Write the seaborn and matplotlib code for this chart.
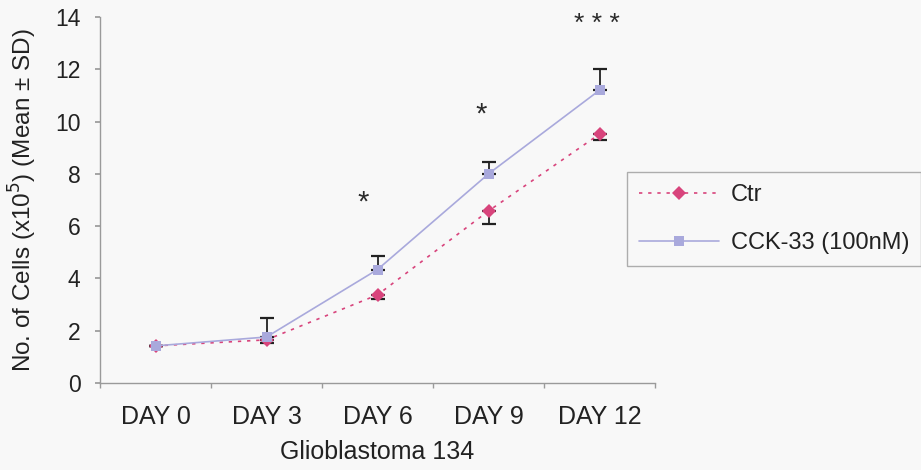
import matplotlib
matplotlib.use("Agg")
import matplotlib.pyplot as plt
import seaborn as sns
import pandas as pd
import numpy as np

sns.set_theme(style="white")
plt.rcParams["font.family"] = ["Liberation Sans", "DejaVu Sans"]

# Cell counts (x10^5), mean and SD for each time point
days = ["DAY 0", "DAY 3", "DAY 6", "DAY 9", "DAY 12"]
ctr_mean = [1.42, 1.65, 3.37, 6.58, 9.52]
ctr_sd = [0.0, 0.12, 0.17, 0.48, 0.22]
cck_mean = [1.42, 1.76, 4.34, 8.00, 11.20]
cck_sd = [0.0, 0.73, 0.52, 0.45, 0.80]
series_names = ["Ctr", "CCK-33 (100nM)"]
signif = ["", "", "*", "*", "* * *"]
signif_y = [0, 0, 6.9, 10.25, 13.75]
signif_dx = [0, 0, -0.13, -0.07, -0.02]
signif_size = [0, 0, 21, 21, 19]

ctr_color = "#D8447C"
cck_color = "#A9A9DC"
text_color = "#222222"
axis_color = "#9A9A9A"
bg = "#F8F8F8"

df = pd.DataFrame({
    "day": days * 2,
    "cells": ctr_mean + cck_mean,
    "group": [series_names[0]] * len(days) + [series_names[1]] * len(days),
})

fig = plt.figure(figsize=(9.21, 4.70), dpi=100, facecolor=bg)
ax = fig.add_axes([100 / 921, 1 - 383 / 470, 555 / 921, 366 / 470])
ax.set_facecolor(bg)

sns.lineplot(
    data=df, x="day", y="cells", hue="group", style="group",
    palette={series_names[0]: ctr_color, series_names[1]: cck_color},
    markers={series_names[0]: "D", series_names[1]: "s"},
    dashes={series_names[0]: (2, 3.5), series_names[1]: ""},
    markersize=7, linewidth=1.2, markeredgewidth=0, sort=False, ax=ax,
)

x = np.arange(len(days))
zeros = np.zeros(len(days))
# Ctr: lower SD only; CCK-33: upper SD only
ax.errorbar(x, ctr_mean, yerr=[ctr_sd, zeros], fmt="none",
            ecolor=text_color, elinewidth=1.3, capsize=5, capthick=1.6, zorder=1)
ax.errorbar(x, cck_mean, yerr=[zeros, cck_sd], fmt="none",
            ecolor=text_color, elinewidth=1.3, capsize=5, capthick=1.6, zorder=1)

for xi, s, sy, dx, fs in zip(x, signif, signif_y, signif_dx, signif_size):
    if s:
        ax.text(xi + dx, sy, s, ha="center", va="center",
                fontsize=fs, color="#2A2A2A")

ax.set_xlim(-0.5, len(days) - 0.5)
ax.set_ylim(0, 14)
ax.set_yticks(range(0, 15, 2))
ax.set_xticks(x)
ax.set_xticks(np.arange(-0.5, len(days), 1.0), minor=True)
ax.tick_params(axis="x", which="major", length=0, pad=16, labelsize=18, labelcolor=text_color)
ax.tick_params(axis="x", which="minor", length=3.6, color=axis_color, direction="out", bottom=True)
ax.tick_params(axis="y", length=3.6, color=axis_color, direction="out", left=True,
               labelsize=16.5, labelcolor=text_color, pad=10.5)

for side in ["top", "right"]:
    ax.spines[side].set_visible(False)
for side in ["left", "bottom"]:
    ax.spines[side].set_color(axis_color)
    ax.spines[side].set_linewidth(1.0)

ax.set_xlabel("")
ax.set_ylabel("")
fig.text(23 / 921, 1 - 200 / 470, r"No. of Cells (x10$^{5}$) (Mean ± SD)", rotation=90,
         ha="center", va="center", fontsize=17.5, color=text_color)
fig.text(377 / 921, 1 - 452 / 470, "Glioblastoma 134", ha="center", va="center",
         fontsize=18, color=text_color)

leg = ax.legend(
    loc="upper left", bbox_to_anchor=(627 / 921, 1 - 172 / 470),
    bbox_transform=fig.transFigure, frameon=True, fancybox=False,
    fontsize=17, handlelength=3.4, labelspacing=1.1, borderpad=0.5,
    borderaxespad=0, handletextpad=0.5, title=None,
)
leg.get_frame().set_edgecolor(axis_color)
leg.get_frame().set_linewidth(1.0)
leg.get_frame().set_facecolor(bg)
for t in leg.get_texts():
    t.set_color(text_color)

fig.savefig("out.png", dpi=100, facecolor=bg)
